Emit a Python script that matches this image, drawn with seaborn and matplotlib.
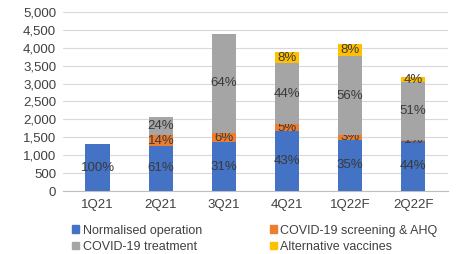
import numpy as np
import pandas as pd
import seaborn as sns
import matplotlib.pyplot as plt
from matplotlib.patches import Patch

# Data
quarters = ['1Q21', '2Q21', '3Q21', '4Q21', '1Q22F', '2Q22F']
normal = [1310, 1265, 1360, 1665, 1435, 1400]
screening = [0, 290, 265, 195, 125, 30]
treatment = [0, 520, 2760, 1705, 2210, 1620]
vaccines = [0, 0, 0, 310, 330, 125]

normal_pct = ['100%', '61%', '31%', '43%', '35%', '44%']
screening_pct = ['', '14%', '6%', '5%', '3%', '1%']
treatment_pct = ['', '24%', '64%', '44%', '56%', '51%']
vaccines_pct = ['', '', '', '8%', '8%', '4%']

series = [
    ('Normalised operation', normal, normal_pct, '#4472C4'),
    ('COVID-19 screening & AHQ', screening, screening_pct, '#ED7D31'),
    ('COVID-19 treatment', treatment, treatment_pct, '#A5A5A5'),
    ('Alternative vaccines', vaccines, vaccines_pct, '#FFC000'),
]

sns.set_style('white')
plt.rcParams['font.family'] = ['Liberation Sans', 'DejaVu Sans']

fig = plt.figure(figsize=(4.57, 2.54), dpi=100)
ax = fig.add_axes([0.138, 0.248, 0.842, 0.705])

bottom = np.zeros(len(quarters))
for name, vals, labels, color in series:
    df = pd.DataFrame({'quarter': quarters, 'value': vals})
    sns.barplot(data=df, x='quarter', y='value', bottom=bottom, color=color,
                width=0.39, saturation=1, ax=ax, zorder=3, linewidth=0)
    ax.bar_label(ax.containers[-1], labels=labels, label_type='center',
                 fontsize=9.5, color='#3a3a3a')
    bottom = bottom + np.array(vals)

ax.set_ylim(0, 5000)
ax.set_yticks(range(0, 5001, 500))
ax.set_yticklabels([f'{v:,}' for v in range(0, 5001, 500)])
ax.set_xlim(-0.55, 5.55)
ax.set_xlabel('')
ax.set_ylabel('')
ax.grid(axis='y', color='#d9d9d9', linewidth=0.8, zorder=0)
for s in ['left', 'right', 'top']:
    ax.spines[s].set_visible(False)
ax.spines['bottom'].set_color('#bfbfbf')
ax.tick_params(axis='both', length=0, labelsize=9.5, colors='#404040', pad=5)
ax.tick_params(axis='x', pad=6)

# column-first fill -> reorder so rows read like the original
order = [0, 2, 1, 3]
handles = [Patch(color=series[i][3], label=series[i][0]) for i in order]
ax.legend(handles=handles, ncol=2, loc='upper left', bbox_to_anchor=(-0.005, -0.125),
          frameon=False, fontsize=9, handlelength=0.55, handleheight=0.55,
          handletextpad=0.3, columnspacing=5.4, labelspacing=0.35,
          labelcolor='#404040')

fig.savefig('out.png', dpi=100)
